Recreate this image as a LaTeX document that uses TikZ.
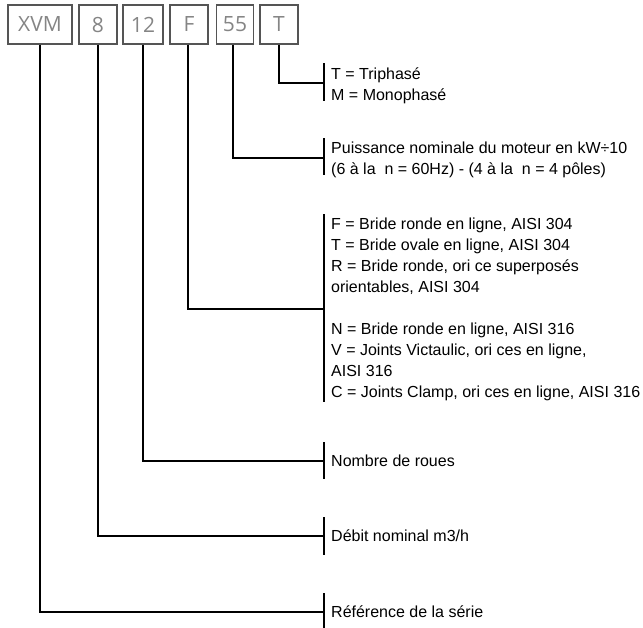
\documentclass[tikz,border=0pt]{standalone}
\usepackage{fontspec}
\setmainfont{Liberation Sans}
\newfontfamily\legendfont{Liberation Sans}
\newfontfamily\codefont{Open Sans}
\usetikzlibrary{positioning}
\definecolor{codegray}{HTML}{858585}
\definecolor{framegray}{HTML}{555555}

\begin{document}
\begin{tikzpicture}[x=1pt, y=-1pt,
  codebox/.style={draw=framegray, line width=1.3pt, minimum height=39pt,
    inner sep=0pt, text=codegray, font=\codefont\fontsize{21}{21}\selectfont},
  legend/.style={anchor=west, align=left, inner sep=0pt,
    font=\legendfont\fontsize{16}{21}\selectfont},
  link/.style={line width=1.2pt},
  tick/.style={line width=1.6pt}]
  \useasboundingbox (0,0) rectangle (643,627);
  % ---- code boxes along the top ----
  \node[codebox, minimum width=64pt] (xvm) at (40,24.5) {XVM};
  \node[codebox, minimum width=38pt] (flow) at (98,24.5) {8};
  \node[codebox, minimum width=40pt] (wheels) at (143,24.5) {12};
  \node[codebox, minimum width=38pt] (flange) at (189,24.5) {F};
  \node[codebox, minimum width=37pt] (power) at (235,24.5) {55};
  \node[codebox, minimum width=38pt] (phase) at (279,24.5) {T};
  % ---- legends on the right ----
  \node[legend] (phasetxt) at (331,85.5)
    {T = Triphasé\\M = Monophasé};
  \node[legend] (powertxt) at (331,159.5)
    {Puissance nominale du moteur en kW÷10\\
     (6 à la\ \ n = 60Hz) - (4 à la\ \ n = 4 pôles)};
  \node[legend] (flangetxt) at (331,309)
    {F = Bride ronde en ligne, AISI 304\\
     T = Bride ovale en ligne, AISI 304\\
     R = Bride ronde, ori ce superposés\\
     orientables, AISI 304\\[21pt]
     N = Bride ronde en ligne, AISI 316\\
     V = Joints Victaulic, ori ces en ligne,\\
     AISI 316\\
     C = Joints Clamp, ori ces en ligne, AISI 316};
  \node[legend] (wheelstxt) at (331,461) {Nombre de roues};
  \node[legend] (flowtxt) at (331,536) {Débit nominal m3/h};
  \node[legend] (xvmtxt) at (331,612) {Référence de la série};
  % ---- bar points ----
  \coordinate (phasebar) at (324,83);
  \coordinate (powerbar) at (324,158);
  \coordinate (flangebar) at (324,309);
  \coordinate (wheelsbar) at (324,461);
  \coordinate (flowbar) at (324,536);
  \coordinate (xvmbar) at (324,612);
  % ---- connectors ----
  \draw[link] (phase.south) |- (phasebar);
  \draw[link] (power.south -| 233,0) |- (powerbar);
  \draw[link] (flange.south -| 188,0) |- (flangebar);
  \draw[link] (wheels.south) |- (wheelsbar);
  \draw[link] (flow.south) |- (flowbar);
  \draw[link] (xvm.south) |- (xvmbar);
  % ---- bars ----
  \draw[tick] ([yshift=20pt]phasebar) -- ([yshift=-18pt]phasebar);
  \draw[tick] ([yshift=20pt]powerbar) -- ([yshift=-17pt]powerbar);
  \draw[tick] ([yshift=95pt]flangebar) -- ([yshift=-93pt]flangebar);
  \draw[tick] ([yshift=19pt]wheelsbar) -- ([yshift=-18pt]wheelsbar);
  \draw[tick] ([yshift=19pt]flowbar) -- ([yshift=-19pt]flowbar);
  \draw[tick] ([yshift=19pt]xvmbar) -- ([yshift=-19pt]xvmbar);
\end{tikzpicture}
\end{document}
